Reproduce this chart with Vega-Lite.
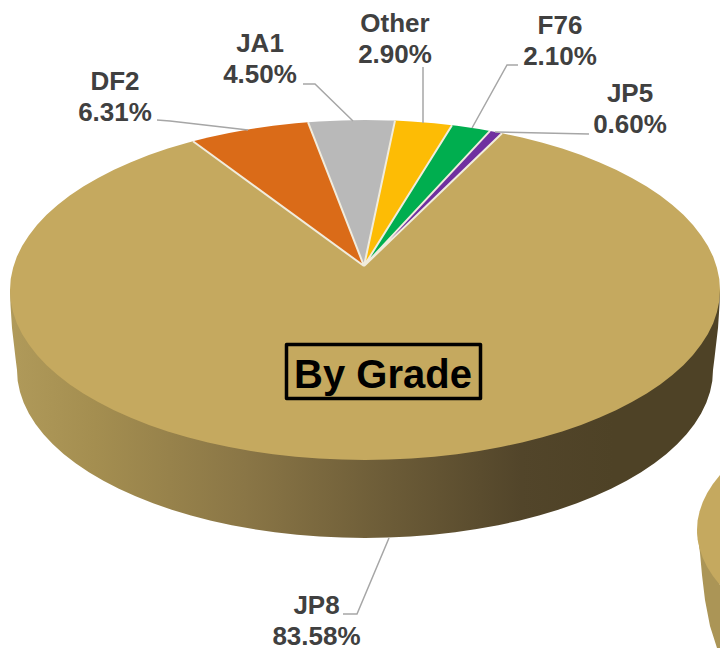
{
"$schema":"https://vega.github.io/schema/vega-lite/v6.json",
"width":720,"height":649,"padding":0,
"autosize":{"type":"fit","contains":"padding"},
"background":"white",
"config":{"view":{"stroke":null}},
"projection":{"type":"identity","scale":1,"translate":[365,290]},
"layer":[
{"data":{"values":[{"type":"Feature","part":"next pie wall","geometry":{"type":"Polygon","coordinates":[[[332,240],[335,263],[337,285],[340,310],[345,336],[352,358],[355,358],[355,295],[332,240]]]}}]},
 "mark":{"type":"geoshape","filled":true,"fill":"#AB9556","stroke":null}},
{"data":{"values":[{"type":"Feature","part":"next pie top","geometry":{"type":"Polygon","coordinates":[[[355,185],[347.9,194],[342.2,203],[337.8,212.1],[334.6,221.3],[332.6,230.6],[332,240],[332.6,249.4],[334.6,258.7],[337.8,267.9],[342.2,277],[347.9,286],[355,295],[355,185]]]}}]},
 "mark":{"type":"geoshape","filled":true,"fill":"#C5A95F","stroke":null}},
{"data":{"values":[{"type":"Feature","part":"wall","geometry":{"type":"Polygon","coordinates":[[[355,0],[354.5,15],[353,38],[351,55],[349.5,68],[348,80],[347.3,91],[345,101.9],[341.3,112.8],[336.1,123.5],[329.5,134],[321.5,144.3],[312.1,154.3],[301.4,164],[289.4,173.3],[276.1,182.3],[261.6,190.8],[246.1,198.8],[229.4,206.3],[211.9,213.3],[193.3,219.7],[174,225.5],[153.9,230.7],[133.2,235.2],[111.8,239.1],[90.1,242.3],[67.9,244.8],[45.4,246.6],[22.8,247.6],[0,248],[-22.8,247.6],[-45.4,246.6],[-67.9,244.8],[-90.1,242.3],[-111.8,239.1],[-133.2,235.2],[-153.9,230.7],[-174,225.5],[-193.3,219.7],[-211.9,213.3],[-229.4,206.3],[-246.1,198.8],[-261.6,190.8],[-276.1,182.3],[-289.4,173.3],[-301.4,164],[-312.1,154.3],[-321.5,144.3],[-329.5,134],[-336.1,123.5],[-341.3,112.8],[-345,101.9],[-347.3,91],[-348,80],[-349.5,68],[-351,55],[-353,38],[-354.5,15],[-355,0],[355,0]]]}}]},
 "mark":{"type":"geoshape","filled":true,"stroke":null,"fill":{"gradient":"linear","x1":0,"x2":1,"y1":0,"y2":0,"stops":[{"offset":0,"color":"#B09A5A"},{"offset":0.12,"color":"#A48E50"},{"offset":0.33,"color":"#8A7646"},{"offset":0.54,"color":"#6B5B37"},{"offset":0.72,"color":"#52452A"},{"offset":0.85,"color":"#4E4226"},{"offset":1,"color":"#4E4226"}]}}},
{"data":{"values":[
{"type":"Feature","grade":"JP8","share":83.58,"geometry":{"type":"Polygon","coordinates":[[[-1,-24],[137,-156.8],[157,-152.5],[177.5,-147.2],[197.2,-141.4],[216.1,-134.9],[234.1,-127.8],[251,-120.2],[266.9,-112.1],[281.7,-103.5],[295.2,-94.5],[307.4,-85],[318.4,-75.2],[328,-65.1],[336.1,-54.6],[342.9,-44],[348.2,-33.2],[351.9,-22.2],[354.3,-11.1],[355,0],[354.3,11.1],[351.9,22.2],[348.2,33.2],[342.9,44],[336.1,54.6],[328,65.1],[318.4,75.2],[307.4,85],[295.2,94.5],[281.7,103.5],[266.9,112.1],[251,120.2],[234.1,127.8],[216.1,134.9],[197.2,141.4],[177.5,147.2],[157,152.5],[135.9,157.1],[114.1,161],[91.9,164.2],[69.3,166.7],[46.3,168.5],[23.2,169.6],[0,170],[-23.2,169.6],[-46.3,168.5],[-69.3,166.7],[-91.9,164.2],[-114.1,161],[-135.9,157.1],[-157,152.5],[-177.5,147.2],[-197.2,141.4],[-216.1,134.9],[-234.1,127.8],[-251,120.2],[-266.9,112.1],[-281.7,103.5],[-295.2,94.5],[-307.4,85],[-318.4,75.2],[-328,65.1],[-336.1,54.6],[-342.9,44],[-348.2,33.2],[-351.9,22.2],[-354.3,11.1],[-355,0],[-354.3,-11.1],[-351.9,-22.2],[-348.2,-33.2],[-342.9,-44],[-336.1,-54.6],[-328,-65.1],[-318.4,-75.2],[-307.4,-85],[-295.2,-94.5],[-281.7,-103.5],[-266.9,-112.1],[-251,-120.2],[-234.1,-127.8],[-216.1,-134.9],[-197.2,-141.4],[-177.5,-147.2],[-172,-148.7],[-1,-24]]]}},
{"type":"Feature","grade":"DF2","share":6.31,"geometry":{"type":"Polygon","coordinates":[[[-1,-24],[-172,-148.7],[-157,-152.5],[-135.9,-157.1],[-114.1,-161],[-91.9,-164.2],[-69.3,-166.7],[-57,-167.8],[-1,-24]]]}},
{"type":"Feature","grade":"JA1","share":4.5,"geometry":{"type":"Polygon","coordinates":[[[-1,-24],[-57,-167.8],[-46.3,-168.5],[-23.2,-169.6],[0,-170],[23.2,-169.6],[30,-169.4],[-1,-24]]]}},
{"type":"Feature","grade":"Other","share":2.9,"geometry":{"type":"Polygon","coordinates":[[[-1,-24],[30,-169.4],[46.3,-168.5],[69.3,-166.7],[87,-164.8],[-1,-24]]]}},
{"type":"Feature","grade":"F76","share":2.1,"geometry":{"type":"Polygon","coordinates":[[[-1,-24],[87,-164.8],[91.9,-164.2],[114.1,-161],[125,-159.1],[-1,-24]]]}},
{"type":"Feature","grade":"JP5","share":0.6,"geometry":{"type":"Polygon","coordinates":[[[-1,-24],[125,-159.1],[135.9,-157.1],[137,-156.8],[-1,-24]]]}}
]},
 "mark":{"type":"geoshape","filled":true,"stroke":null},
 "encoding":{"color":{"field":"grade","type":"nominal","legend":null,"scale":{"domain":["JP8","DF2","JA1","Other","F76","JP5"],"range":["#C5A95F","#DA6B18","#B9B9B9","#FDBC05","#00AE4F","#7030A0"]}}}},
{"data":{"values":[{"type":"Feature","part":"separators","geometry":{"type":"MultiLineString","coordinates":[[[-1,-24],[-172,-148.7]],[[-1,-24],[-57,-167.8]],[[-1,-24],[30,-169.4]],[[-1,-24],[87,-164.8]],[[-1,-24],[125,-159.1]],[[-1,-24],[137,-156.8]]]}}]},
 "mark":{"type":"geoshape","filled":false,"fill":null,"stroke":"#F1ECDD","strokeWidth":2}},
{"data":{"values":[{"type":"Feature","part":"leaders","geometry":{"type":"MultiLineString","coordinates":[[[-208,-170],[-195,-169],[-117,-160]],[[-62,-206],[-50,-206],[-12,-169]],[[58,-223],[58,-167]],[[153,-225],[142,-225],[107,-162]],[[224,-156],[130,-158]],[[-22,324],[-8,324],[24,248]]]}}]},
 "mark":{"type":"geoshape","filled":false,"fill":null,"stroke":"#A6A6A6","strokeWidth":1.5}},
{"data":{"values":[{"type":"Feature","part":"title box","geometry":{"type":"Polygon","coordinates":[[[-78.5,54.5],[115.5,54.5],[115.5,108.5],[-78.5,108.5],[-78.5,54.5]]]}}]},
 "mark":{"type":"geoshape","filled":false,"fill":null,"stroke":"#000000","strokeWidth":3.5,"strokeJoin":"round"}},
{"data":{"values":[{"label":"By Grade","lx":18,"ly":98}]},
 "mark":{"type":"text","font":"Liberation Sans","fontWeight":"bold","fontSize":40,"color":"#000000","align":"center","baseline":"alphabetic"},
 "encoding":{"longitude":{"field":"lx","type":"quantitative"},"latitude":{"field":"ly","type":"quantitative"},"text":{"field":"label","type":"nominal"}}},
{"data":{"values":[
{"grade":"DF2","label":"DF2\n6.31%","lx":-250,"ly":-208},
{"grade":"JA1","label":"JA1\n4.50%","lx":-105,"ly":-246},
{"grade":"Other","label":"Other\n2.90%","lx":30,"ly":-266},
{"grade":"F76","label":"F76\n2.10%","lx":195,"ly":-264},
{"grade":"JP5","label":"JP5\n0.60%","lx":265,"ly":-196},
{"grade":"JP8","label":"JP8\n83.58%","lx":-48.5,"ly":316}
]},
 "mark":{"type":"text","font":"Liberation Sans","fontWeight":"bold","fontSize":26,"color":"#404040","align":"center","baseline":"middle","lineBreak":"\n","lineHeight":31},
 "encoding":{"longitude":{"field":"lx","type":"quantitative"},"latitude":{"field":"ly","type":"quantitative"},"text":{"field":"label","type":"nominal"}}}
]
}
